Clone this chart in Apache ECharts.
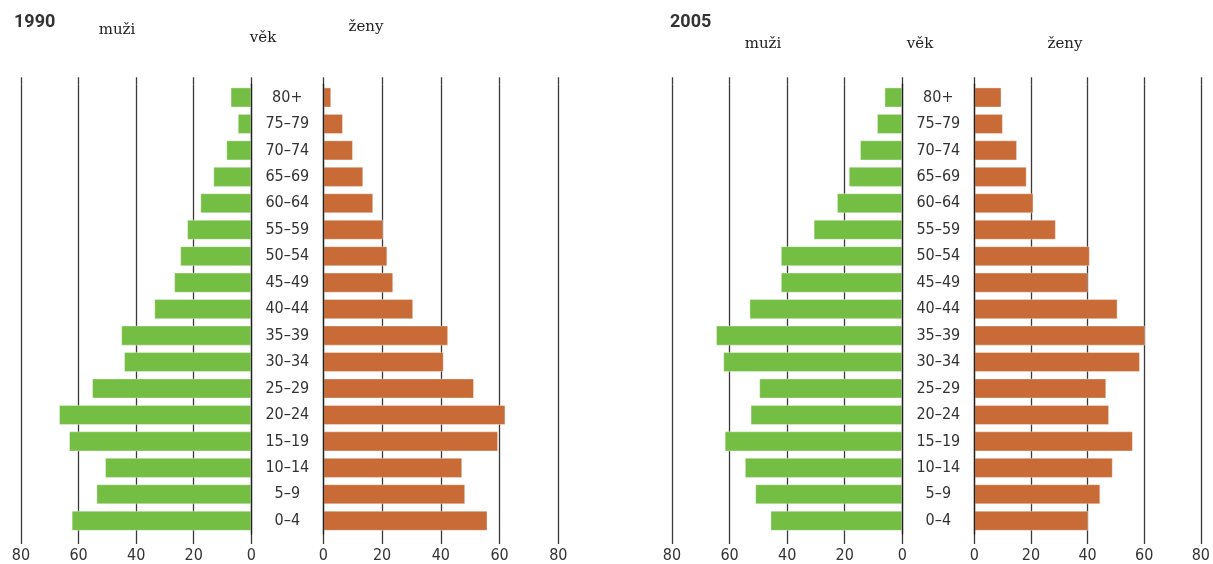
<!DOCTYPE html>
<html>
<head>
<meta charset="utf-8">
<script src="https://cdn.jsdelivr.net/npm/echarts@6/dist/echarts.min.js"></script>
<style>
html,body{margin:0;padding:0;background:#fff}
#chart{width:1213px;height:564px}
</style>
</head>
<body>
<div id="chart"></div>
<script>
// Age groups, youngest first (bottom of the pyramid)
const ages = ['0–4','5–9','10–14','15–19','20–24','25–29','30–34','35–39','40–44','45–49','50–54','55–59','60–64','65–69','70–74','75–79','80+'];

// Population per age group (thousands)
const men1990   = [62.4, 53.8, 50.8, 63.3, 66.8, 55.3, 44.2, 45.2, 33.7, 26.8, 24.7, 22.3, 17.7, 13.2, 8.7, 4.7, 7.2];
const women1990 = [55.9, 48.3, 47.3, 59.5, 62.0, 51.3, 41.0, 42.5, 30.6, 23.8, 21.8, 20.4, 17.0, 13.6, 10.1, 6.7, 2.7];
const men2005   = [45.8, 51.1, 54.7, 61.7, 52.7, 49.7, 62.2, 64.7, 53.1, 42.2, 42.2, 30.8, 22.7, 18.6, 14.7, 8.8, 6.2];
const women2005 = [40.3, 44.5, 48.9, 56.0, 47.6, 46.6, 58.5, 60.3, 50.6, 40.1, 40.8, 28.8, 20.9, 18.5, 15.1, 10.1, 9.6];

// Value axis range and ticks
const axisMin = 0, axisMax = 80, axisStep = 20;

const GREEN = '#73be43';
const ORANGE = '#c96b37';
const LINE = '#3a3a3a';
const TEXT = '#333';
const NUM_FONT = '"DejaVu Sans Condensed", "DejaVu Sans", sans-serif';
const HEAD_FONT = '"DejaVu Serif", "Liberation Serif", serif';

const W = 1213;
const panels = [
  { x0: 21,    x1: 251.3,  values: men1990,   color: GREEN,  men: true },
  { x0: 323.3, x1: 558.3,  values: women1990, color: ORANGE, men: false },
  { x0: 672,   x1: 902.3,  values: men2005,   color: GREEN,  men: true },
  { x0: 974.3, x1: 1207.7, values: women2005, color: ORANGE, men: false }
];

const gridTop = 84.25, gridBottom = 29.25;

const grid = [], xAxis = [], yAxis = [], series = [];
panels.forEach((p, i) => {
  grid.push({ left: p.x0, right: W - p.x1, top: gridTop, bottom: gridBottom, containLabel: false });
  // bottom value axis with labels, split lines and ticks reaching below the plot
  xAxis.push({
    gridIndex: i, type: 'value', min: axisMin, max: axisMax, interval: axisStep,
    inverse: p.men, position: 'bottom',
    axisLine: { show: false },
    axisTick: { show: true, length: 10, lineStyle: { color: LINE, width: 1.3 } },
    splitLine: { show: true, lineStyle: { color: LINE, width: 1.3 } },
    axisLabel: { margin: 14, fontSize: 16, color: TEXT, fontFamily: NUM_FONT }
  });
  yAxis.push({
    gridIndex: i, type: 'category', data: ages,
    position: p.men ? 'right' : 'left',
    z: 3,
    axisLine: { show: true, lineStyle: { color: '#222', width: 1.3 } },
    axisTick: { show: false },
    splitLine: { show: false },
    axisLabel: p.men
      ? { show: true, align: 'center', margin: 36, fontSize: 16, color: TEXT, fontFamily: NUM_FONT }
      : { show: false }
  });
  series.push({
    type: 'bar', xAxisIndex: i, yAxisIndex: i, data: p.values,
    barCategoryGap: '24%',
    itemStyle: { color: p.color, borderColor: 'rgba(255,255,255,0.35)', borderWidth: 1 },
    emphasis: { disabled: true },
    silent: true
  });
});
// top value axes: only short ticks extending the grid lines above the plot
panels.forEach((p, i) => {
  xAxis.push({
    gridIndex: i, type: 'value', min: axisMin, max: axisMax, interval: axisStep,
    inverse: p.men, position: 'top',
    axisLine: { show: false },
    axisTick: { show: true, length: 7, lineStyle: { color: LINE, width: 1.3 } },
    splitLine: { show: false },
    axisLabel: { show: false }
  });
});

function head(text, x, y) {
  return { type: 'text', x: x, y: y, style: { text: text, fill: '#222', font: '15px ' + HEAD_FONT, textAlign: 'center', textVerticalAlign: 'middle' } };
}
function year(text, x, y) {
  return { type: 'text', x: x, y: y, style: { text: text, fill: TEXT, font: 'bold 18px Roboto, sans-serif', textAlign: 'left', textVerticalAlign: 'middle' } };
}

const chart = echarts.init(document.getElementById('chart'), null, { renderer: 'canvas' });
chart.setOption({
  animation: false,
  backgroundColor: '#fff',
  grid, xAxis, yAxis, series,
  graphic: [
    year('1990', 14, 22),
    head('muži', 117, 30),
    head('věk', 263, 38),
    head('ženy', 366, 27),
    year('2005', 670, 22),
    head('muži', 763, 44),
    head('věk', 920, 44),
    head('ženy', 1065, 44)
  ]
});
</script>
</body>
</html>
